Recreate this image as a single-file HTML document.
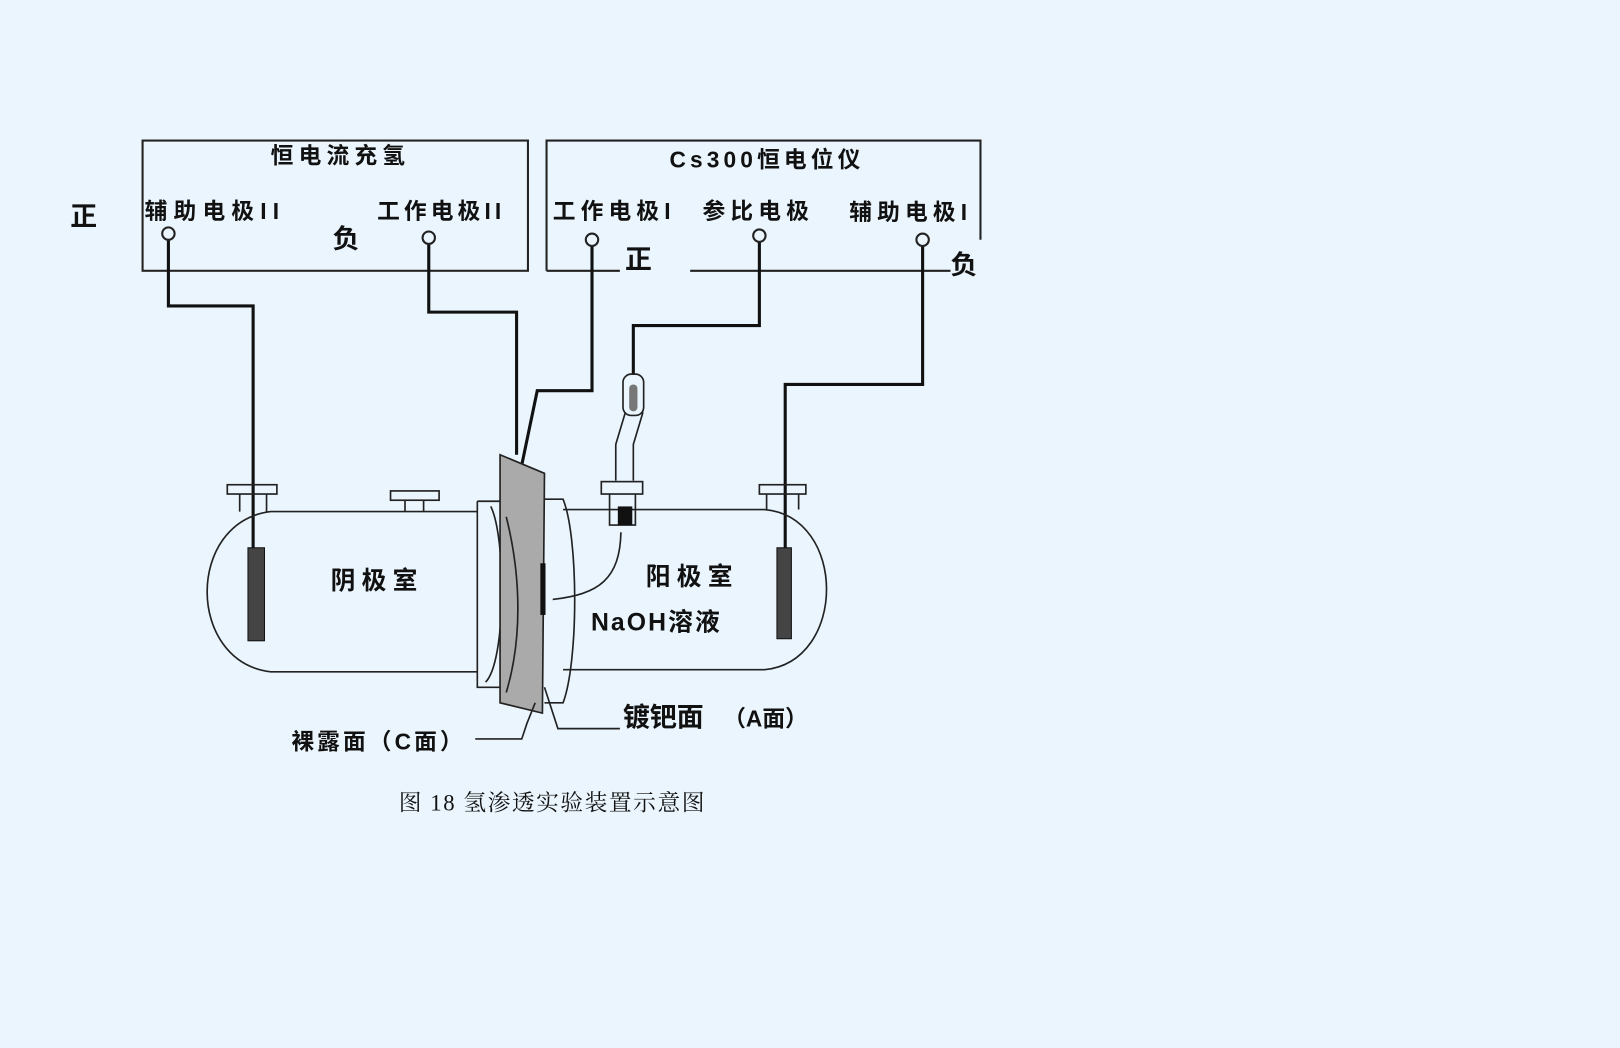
<!DOCTYPE html>
<html><head><meta charset="utf-8"><style>
html,body{margin:0;padding:0;background:#eaf5fd;}
svg{display:block}
text{font-family:"Liberation Sans","Noto Sans CJK SC",sans-serif;fill:#111;font-weight:bold;}
</style></head><body>
<svg width="1620" height="1048" viewBox="0 0 1568 1014" preserveAspectRatio="none" xmlns="http://www.w3.org/2000/svg">
<rect width="1568" height="1014" fill="#eaf5fd"/>
<g fill="none" stroke="#222" stroke-width="2">
<rect x="138" y="136" width="373" height="126"/>
<polyline points="529,262 529,136 949,136 949,232"/>
<line x1="529" y1="262" x2="600" y2="262"/>
<line x1="668" y1="262" x2="920" y2="262"/>
</g>
<g fill="none" stroke="#111" stroke-width="3">
<polyline points="163,226 163,296 245,296 245,530"/>
<polyline points="415,232 415,302 500,302 500,440"/>
<polyline points="573,234 573,378 520,378 505,450"/>
<polyline points="735,230 735,315 613,315 613,368"/>
<polyline points="893,234 893,372 760,372 760,530"/>
</g>
<g fill="#eaf5fd" stroke="#222" stroke-width="2">
<circle cx="163" cy="226" r="6"/><circle cx="415" cy="230" r="6"/>
<circle cx="573" cy="232" r="6"/><circle cx="735" cy="228" r="6"/><circle cx="893" cy="232" r="6"/>
</g>
<g fill="none" stroke="#222" stroke-width="1.6">
<path d="M462,495 L262,495 C180,505 180,640 262,650 L462,650"/>
<path d="M545,493 L740,493 C820,500 820,640 740,648 L545,648"/>
<rect x="220" y="469" width="48" height="9"/>
<path d="M232,478 L232,495 M258,478 L258,495"/>
<rect x="378" y="475" width="47" height="9"/>
<path d="M392,484 L392,495 M410,484 L410,495"/>
<rect x="735" y="469" width="45" height="9"/>
<path d="M742,478 L742,493 M773,478 L773,493"/>
<path d="M462,485 L484,485 M462,485 L462,665 L484,665 M475,490 C490,520 490,640 470,660"/>
<path d="M527,483 L545,483 C560,520 560,640 545,680 L527,680"/>
<path d="M605,370 L605,400 L596,430 L596,465 M622,370 L622,400 L613,430 L613,465"/>
<rect x="582" y="466" width="40" height="12"/>
<path d="M590,478 L590,508 L615,508 L615,478 M601,515 C600,560 580,575 535,580"/>
</g>
<rect x="603" y="362" width="20" height="40" rx="8" fill="#eaf5fd" stroke="#222" stroke-width="1.6"/>
<rect x="609" y="372" width="8" height="26" rx="4" fill="#777"/>
<rect x="598" y="490" width="14" height="18" fill="#111"/>
<polygon points="484,440 527,458 525,690 484,680" fill="#aaa" stroke="#222" stroke-width="1.6"/>
<path d="M490,500 C505,560 505,620 490,670" fill="none" stroke="#222" stroke-width="1.6"/>
<rect x="523" y="545" width="5" height="50" fill="#111"/>
<rect x="240" y="530" width="16" height="90" fill="#444" stroke="#111"/>
<rect x="752" y="530" width="14" height="88" fill="#444" stroke="#111"/>
<g fill="none" stroke="#222" stroke-width="1.6">
<path d="M518,680 L510,700 L505,715 L460,715"/>
<path d="M527,665 L540,705 L600,705"/>
</g>
<g font-size="22">
<text x="262" y="158" letter-spacing="5">恒电流充氢</text>
<text x="648" y="162" letter-spacing="4">Cs300恒电位仪</text>
<text x="68" y="218" font-size="26">正</text>
<text x="140" y="212" letter-spacing="6">辅助电极II</text>
<text x="365" y="212" letter-spacing="4">工作电极II</text>
<text x="322" y="240" font-size="26">负</text>
<text x="535" y="212" letter-spacing="5">工作电极I</text>
<text x="680" y="212" letter-spacing="5">参比电极</text>
<text x="822" y="213" letter-spacing="5">辅助电极I</text>
<text x="605" y="260" font-size="26">正</text>
<text x="920" y="265" font-size="26">负</text>
<text x="320" y="570" font-size="24" letter-spacing="6">阴极室</text>
<text x="625" y="566" font-size="24" letter-spacing="6">阳极室</text>
<text x="572" y="610" font-size="24" letter-spacing="2">NaOH溶液</text>
<text x="603" y="703" font-size="26">镀钯面</text>
<text x="700" y="703">（A面）</text>
<text x="282" y="725" letter-spacing="3">裸露面（C面）</text>
<text x="386" y="784" letter-spacing="1.5" style="font-weight:normal;font-family:'Liberation Serif','Noto Serif CJK SC',serif">图 18  氢渗透实验装置示意图</text>
</g>
</svg>
</body></html>
